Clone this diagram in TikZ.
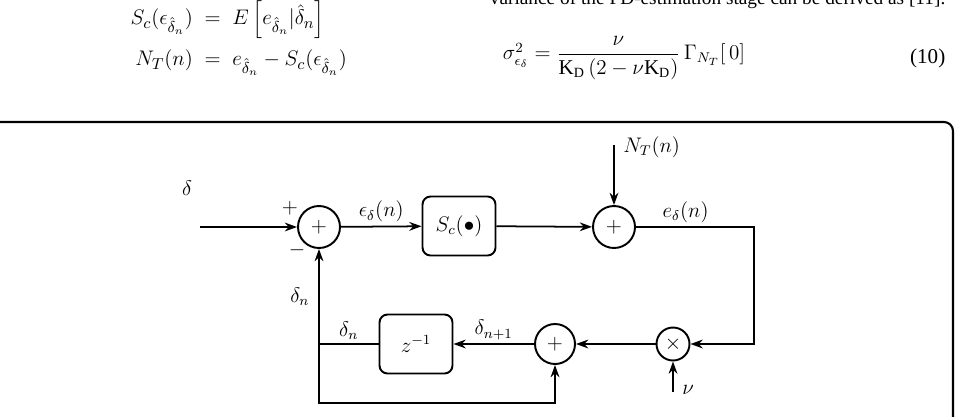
\documentclass[tikz,border=0pt]{standalone}
\usepackage{xcolor}
\usepackage{amsmath}
\usepackage{fontspec}
\setmainfont{Liberation Serif}
\usepackage{tikz}
\usetikzlibrary{arrows.meta}

\begin{document}
\begin{tikzpicture}[x=0.02cm, y=-0.02cm, line width=1pt, >={Stealth[length=7pt,width=5pt]},
    every node/.style={font=\fontsize{11.5}{14}\selectfont},
    sum/.style={circle, draw, line width=1.1pt, inner sep=0pt, minimum size=0.84cm},
    mult/.style={circle, draw, line width=1.1pt, inner sep=0pt, minimum size=0.66cm},
    blk/.style={draw, rounded corners=0.16cm, line width=1.1pt, minimum width=1.46cm, minimum height=1.18cm},
    lbl/.style={inner sep=2pt}]
    \useasboundingbox (0,0) rectangle (962,416);
    \clip (0,0) rectangle (962,416);

    % Text above the figure
    \node[anchor=base east, font=\fontsize{11}{13}\selectfont] (prose) at (952,4) {variance of the FD-estimation stage can be derived as [11].};
    \node[anchor=north west, font=\fontsize{13}{15}\selectfont] (eqa) at (124,-6) {$\begin{aligned}
        S_c(\epsilon_{\hat{\delta}_n}) \;&=\; E\left[e_{\hat{\delta}_n}|\hat{\delta}_n\right]\\[1pt]
        N_T(n) \;&=\; e_{\hat{\delta}_n} - S_c(\epsilon_{\hat{\delta}_n})
      \end{aligned}$};
    \node[font=\fontsize{12}{14}\selectfont] (eqb) at (624,58) {$\sigma^2_{\epsilon_\delta} = \dfrac{\nu}{\mathrm{K_D}\,(2-\nu\mathrm{K_D})}\,\Gamma_{N_T}[\,0]$};
    \node[anchor=east, font=\fontsize{12}{14}\selectfont] (eqn) at (952,58) {(10)};

    % Frame
    \draw[line width=1.2pt, rounded corners=0.18cm] (-30,122) -- (953,122) -- (953,450);

    % Blocks
    \node[sum] (s1) at (319,227) {$+$};
    \node[blk] (sc) at (459,226) {$S_c(\bullet)$};
    \node[sum] (s2) at (614,227) {$+$};
    \node[mult] (m) at (673,344) {$\times$};
    \node[sum, minimum size=0.8cm] (s3) at (555,344) {$+$};
    \node[blk] (z) at (416,344) {$z^{-1}$};

    % Free ends and corners
    \coordinate (in) at (200,227);
    \coordinate (nt) at (614,145);
    \coordinate (nu) at (673,392);
    \coordinate (rgt) at (754,227);
    \coordinate (j) at (319,344);
    \coordinate (b) at (319,403);

    % Labels
    \node[lbl] (dl) at (187,188) {$\delta$};
    \node[lbl] (pl) at (290,208) {$+$};
    \node[lbl] (ml) at (297,250) {$-$};
    \node[lbl, anchor=west] (ntl) at (619,147) {$N_T(n)$};
    \node[lbl, anchor=west] (nul) at (678,390) {$\nu$};

    % Forward path
    \draw[->] (in) -- (s1);
    \draw[->] (s1) -- node[above, lbl] {$\epsilon_\delta(n)$} (sc);
    \draw[->] (sc) -- (s2);
    \draw[->] (nt) -- (s2);
    \draw[->] (s2) -- node[above, lbl, pos=0.42] {$e_\delta(n)$} (rgt) -- (rgt |- m) -- (m);

    % Feedback path
    \draw[->] (nu) -- (m);
    \draw[->] (m) -- (s3);
    \draw[->] (s3) -- node[above, lbl] {$\delta_{n+1}$} (z);
    \draw (z) -- node[above, lbl] {$\delta_n$} (j);
    \draw[->] (j) -- node[left, lbl, xshift=-3pt] {$\delta_n$} (s1);
    \draw[->] (j) -- (b) -| (s3);
\end{tikzpicture}
\end{document}
